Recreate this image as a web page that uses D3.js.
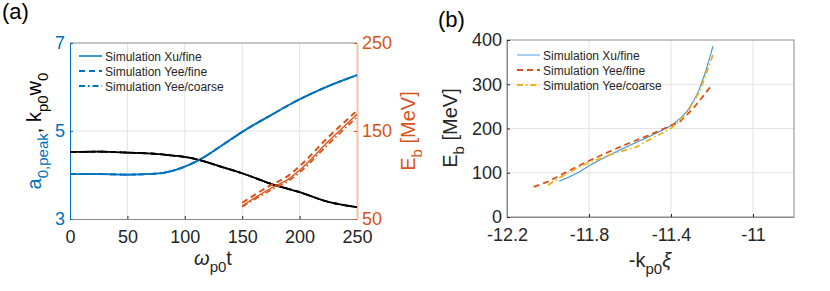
<!DOCTYPE html>
<html>
<head>
<meta charset="utf-8">
<script src="https://cdn.jsdelivr.net/npm/d3@7"></script>
<style>
  body { margin: 0; background: #fff; }
  svg text { font-family: "Liberation Sans", Arial, sans-serif; }
</style>
</head>
<body>
<div id="chart"></div>
<script>
// ---- panel (a) data ----
var timeA = [0, 25, 50, 75, 90, 100, 113, 130, 150, 175, 200, 225, 250];
var a0peak = [4.02, 4.02, 4.01, 4.03, 4.10, 4.19, 4.35, 4.63, 4.98, 5.36, 5.72, 6.02, 6.27];
var kpw0 = [4.52, 4.53, 4.51, 4.48, 4.44, 4.41, 4.34, 4.20, 4.04, 3.80, 3.61, 3.39, 3.27];
var timeE = [150, 175, 190, 200, 225, 250];
var ebXuFine = [65, 85, 95, 105.5, 138, 169];
var ebYeeFine = [68.5, 88.5, 99, 110, 143, 173];
var ebYeeCoarse = [64, 83, 93, 103, 135, 166];
var ticksA = [0, 50, 100, 150, 200, 250];
var ticksLeft = [3, 5, 7];
var ticksRight = [50, 150, 250];

// ---- panel (b) data ----
var xiXu = [-11.945, -11.9, -11.85, -11.8, -11.75, -11.7, -11.6, -11.5, -11.4, -11.35, -11.32, -11.29, -11.265, -11.23, -11.195];
var ebXu = [81, 90, 101, 116, 128, 140, 162, 183, 206, 225, 240, 262, 285, 330, 386];
var xiYee = [-12.07, -12.0, -11.9, -11.8, -11.7, -11.6, -11.5, -11.4, -11.36, -11.32, -11.28, -11.24, -11.2];
var ebYee = [68, 80, 104, 127, 148, 168, 186, 207, 214, 232, 252, 275, 299];
var xiCoarse = [-12.0, -11.95, -11.9, -11.83, -11.79, -11.73, -11.67, -11.57, -11.5, -11.4, -11.35, -11.32, -11.26, -11.23, -11.195];
var ebCoarse = [72, 87, 100, 117, 125, 134, 145, 158, 176, 200, 222, 237, 284, 322, 367];
var ticksBx = [-12.2, -11.8, -11.4, -11];
var ticksBy = [0, 100, 200, 300, 400];

var legendNames = ["Simulation Xu/fine", "Simulation Yee/fine", "Simulation Yee/coarse"];

var BLUE = "#0072BD", ORANGE = "#D95319", YELLOW = "#EDB120", AXIS = "#262626";
var DASH = "6,4", DASHDOT = "6,3,1.5,3";

var svg = d3.select("#chart").append("svg")
    .attr("width", 830)
    .attr("height", 291);

function zip(xs, ys) {
  return xs.map(function(x, i) { return [x, ys[i]]; });
}

function drawLine(g, pts, x, y, color, width, dash, curve) {
  var line = d3.line()
      .x(function(d) { return x(d[0]); })
      .y(function(d) { return y(d[1]); })
      .curve(curve || d3.curveLinear);
  g.append("path")
      .datum(pts)
      .attr("fill", "none")
      .attr("stroke", color)
      .attr("stroke-width", width)
      .attr("stroke-dasharray", dash)
      .attr("d", line);
}

function drawLegend(g, x0, y0, colors, dashes, width) {
  legendNames.forEach(function(name, i) {
    var yy = y0 + i * 15;
    g.append("line")
        .attr("x1", x0).attr("x2", x0 + 23)
        .attr("y1", yy).attr("y2", yy)
        .attr("stroke", colors[i])
        .attr("stroke-width", width[i])
        .attr("stroke-dasharray", dashes[i]);
    g.append("text")
        .attr("x", x0 + 26).attr("y", yy + 4.5)
        .attr("font-size", 12).attr("fill", AXIS)
        .text(name);
  });
}

function styleAxis(sel, color, domainColor) {
  sel.select(".domain").attr("stroke", domainColor || color);
  sel.selectAll(".tick line").attr("stroke", color);
  sel.selectAll(".tick text")
      .attr("fill", color)
      .attr("font-size", 18)
      .attr("font-family", "Liberation Sans, Arial, sans-serif");
}

function createPanelA() {
  var x = d3.scaleLinear().domain([0, 250]).range([70, 357]);
  var yl = d3.scaleLinear().domain([3, 7]).range([219, 43]);
  var yr = d3.scaleLinear().domain([50, 250]).range([219, 43]);
  var g = svg.append("g");

  // grid
  g.selectAll(".gx").data(ticksA.slice(1, -1)).enter().append("line")
      .attr("x1", function(d) { return x(d); }).attr("x2", function(d) { return x(d); })
      .attr("y1", 43).attr("y2", 219)
      .attr("stroke", "#e3e3e3");
  g.selectAll(".gy").data([5]).enter().append("line")
      .attr("x1", 70).attr("x2", 357)
      .attr("y1", function(d) { return yl(d); }).attr("y2", function(d) { return yl(d); })
      .attr("stroke", "#e3e3e3");

  // top border
  g.append("line").attr("x1", 70).attr("x2", 357).attr("y1", 43).attr("y2", 43)
      .attr("stroke", "#8a8a8a");

  var bottom = g.append("g").attr("transform", "translate(0,219)")
      .call(d3.axisBottom(x).tickValues(ticksA).tickSizeInner(-3).tickSizeOuter(0).tickPadding(11));
  styleAxis(bottom, AXIS, "#8a8a8a");

  var left = g.append("g").attr("transform", "translate(70,0)")
      .call(d3.axisLeft(yl).tickValues(ticksLeft).tickFormat(d3.format("d")).tickSizeInner(-3).tickSizeOuter(0).tickPadding(5));
  styleAxis(left, BLUE);

  var right = g.append("g").attr("transform", "translate(357,0)")
      .call(d3.axisRight(yr).tickValues(ticksRight).tickSizeInner(-3).tickSizeOuter(0).tickPadding(5));
  styleAxis(right, ORANGE, "#f2c3ab");
  right.select(".domain").attr("stroke-width", 2);

  var curve = d3.curveMonotoneX;
  var dashes = [null, DASH, DASHDOT];
  // a0,peak (blue) and kp0 w0 (black): the three runs overlap
  dashes.forEach(function(ds) {
    drawLine(g, zip(timeA, a0peak), x, yl, BLUE, 1.8, ds, curve);
    drawLine(g, zip(timeA, kpw0), x, yl, "#000", 1.8, ds, curve);
  });
  // beam energy (orange, right axis)
  drawLine(g, zip(timeE, ebXuFine), x, yr, ORANGE, 1.3, null, curve);
  drawLine(g, zip(timeE, ebYeeFine), x, yr, ORANGE, 2, DASH, curve);
  drawLine(g, zip(timeE, ebYeeCoarse), x, yr, ORANGE, 1.8, DASHDOT, curve);

  drawLegend(g, 79, 56, [BLUE, BLUE, BLUE], dashes, [1.5, 2, 2]);

  // labels
  svg.append("text").attr("x", 2).attr("y", 19).attr("font-size", 22).attr("fill", "#000").text("(a)");

  var xl = svg.append("text").attr("x", 213).attr("y", 265).attr("text-anchor", "middle")
      .attr("font-size", 20).attr("fill", AXIS);
  xl.append("tspan").attr("font-style", "italic").text("\u03c9");
  xl.append("tspan").attr("font-size", 15).attr("dy", 7).text("p0");
  xl.append("tspan").attr("dy", -7).text("t");

  var ylab = svg.append("text").attr("transform", "translate(41,131) rotate(-90)")
      .attr("text-anchor", "middle").attr("font-size", 20);
  ylab.append("tspan").attr("fill", BLUE).text("a");
  ylab.append("tspan").attr("fill", BLUE).attr("font-size", 15).attr("dy", 7).text("0,peak");
  ylab.append("tspan").attr("fill", "#000").attr("dy", -7).text(", k");
  ylab.append("tspan").attr("fill", "#000").attr("font-size", 15).attr("dy", 7).text("p0");
  ylab.append("tspan").attr("fill", "#000").attr("dy", -7).text("w");
  ylab.append("tspan").attr("fill", "#000").attr("font-size", 15).attr("dy", 7).text("0");

  var yrl = svg.append("text").attr("transform", "translate(415,131) rotate(-90)")
      .attr("text-anchor", "middle").attr("font-size", 20).attr("fill", ORANGE);
  yrl.append("tspan").text("E");
  yrl.append("tspan").attr("font-size", 15).attr("dy", 7).text("b");
  yrl.append("tspan").attr("dy", -7).text(" [MeV]");
}

function createPanelB() {
  var x = d3.scaleLinear().domain([-12.2, -10.8]).range([507, 794]);
  var y = d3.scaleLinear().domain([0, 400]).range([217, 40]);
  var g = svg.append("g");

  g.selectAll(".gx").data(ticksBx.slice(1)).enter().append("line")
      .attr("x1", function(d) { return x(d); }).attr("x2", function(d) { return x(d); })
      .attr("y1", 40).attr("y2", 217)
      .attr("stroke", "#e3e3e3");
  g.selectAll(".gy").data(ticksBy.slice(1, -1)).enter().append("line")
      .attr("x1", 507).attr("x2", 794)
      .attr("y1", function(d) { return y(d); }).attr("y2", function(d) { return y(d); })
      .attr("stroke", "#e3e3e3");

  g.append("rect").attr("x", 507).attr("y", 40).attr("width", 287).attr("height", 177)
      .attr("fill", "none").attr("stroke", "#8a8a8a");

  var bottom = g.append("g").attr("transform", "translate(0,217)")
      .call(d3.axisBottom(x).tickValues(ticksBx).tickSizeInner(-3).tickSizeOuter(0).tickPadding(11));
  styleAxis(bottom, AXIS, "#8a8a8a");
  bottom.selectAll(".tick text").text(function(d) { return d === -11 ? "-11" : "-" + d3.format(".1f")(-d); });

  var left = g.append("g").attr("transform", "translate(507,0)")
      .call(d3.axisLeft(y).tickValues(ticksBy).tickSizeInner(-3).tickSizeOuter(0).tickPadding(5));
  styleAxis(left, AXIS, "#8a8a8a");

  drawLine(g, zip(xiXu, ebXu), x, y, "#3a93d8", 1.1, null);
  drawLine(g, zip(xiYee, ebYee), x, y, ORANGE, 1.8, DASH);
  drawLine(g, zip(xiCoarse, ebCoarse), x, y, YELLOW, 1.8, DASHDOT);

  drawLegend(g, 517, 55, ["#6aaee6", ORANGE, YELLOW], [null, DASH, DASHDOT], [1.2, 1.8, 1.8]);

  svg.append("text").attr("x", 438).attr("y", 27).attr("font-size", 22).attr("fill", "#000").text("(b)");

  var xl = svg.append("text").attr("x", 650).attr("y", 267).attr("text-anchor", "middle")
      .attr("font-size", 20).attr("fill", AXIS);
  xl.append("tspan").text("-k");
  xl.append("tspan").attr("font-size", 15).attr("dy", 7).text("p0");
  xl.append("tspan").attr("dy", -7).attr("font-style", "italic").text("\u03be");

  var yl = svg.append("text").attr("transform", "translate(457,128) rotate(-90)")
      .attr("text-anchor", "middle").attr("font-size", 20).attr("fill", AXIS);
  yl.append("tspan").text("E");
  yl.append("tspan").attr("font-size", 15).attr("dy", 7).text("b");
  yl.append("tspan").attr("dy", -7).text(" [MeV]");
}

createPanelA();
createPanelB();
</script>
</body>
</html>
